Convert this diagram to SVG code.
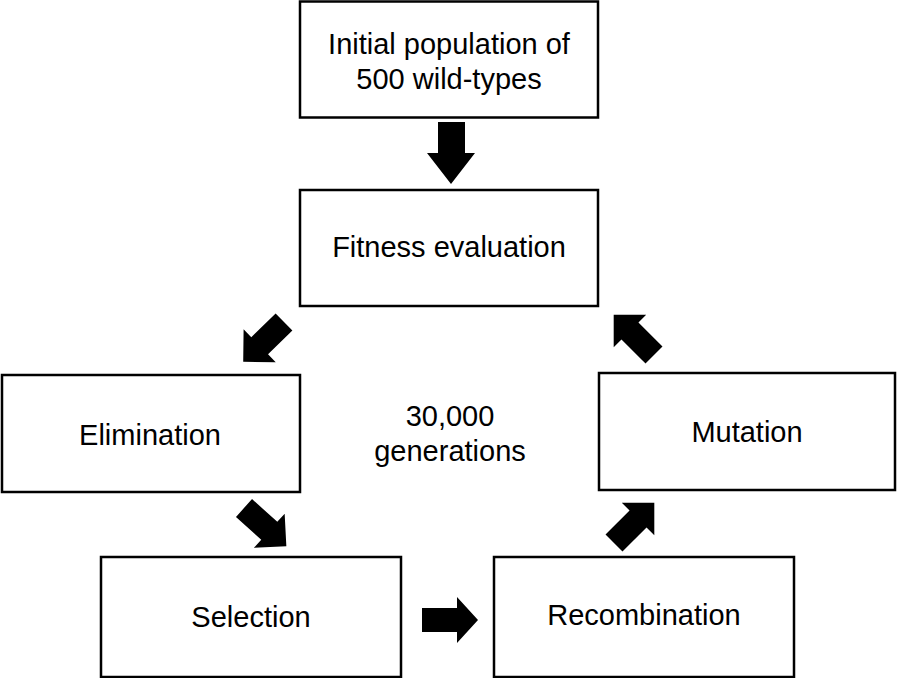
<svg xmlns="http://www.w3.org/2000/svg" xmlns:xlink="http://www.w3.org/1999/xlink" width="898" height="678" viewBox="0 0 898 678">
<style>
.box{fill:#fff;stroke:#000;stroke-width:2.5}
.t{font-family:"Liberation Sans",Arial,sans-serif;font-size:29px;fill:#000;text-anchor:middle}
.arr{fill:#000}
</style>
<defs>
<path id="darr" d="M0,-12 L34,-12 L34,-23 L57,0 L34,23 L34,12 L0,12 Z"/>
</defs>
<rect width="898" height="678" fill="#fff"/>
<g id="initial"><rect class="box" x="300" y="1.5" width="298" height="116"/><text class="t" x="449" y="54">Initial population of</text><text class="t" x="449" y="89">500 wild-types</text></g>
<g id="fitness"><rect class="box" x="300" y="190" width="298" height="116"/><text class="t" x="449" y="257">Fitness evaluation</text></g>
<g id="elimination"><rect class="box" x="2" y="375" width="298" height="117"/><text class="t" x="150" y="445">Elimination</text></g>
<g id="mutation"><rect class="box" x="599" y="373" width="296" height="117"/><text class="t" x="747" y="442">Mutation</text></g>
<g id="selection"><rect class="box" x="101" y="557" width="300" height="120"/><text class="t" x="251" y="627">Selection</text></g>
<g id="recombination"><rect class="box" x="494" y="557" width="300" height="120"/><text class="t" x="644" y="625">Recombination</text></g>
<g id="label"><text class="t" x="450" y="426">30,000</text><text class="t" x="450" y="461">generations</text></g>
<g id="connectors" class="arr">
<polygon points="438,122 465,122 465,153 475,153 451,184 427,153 438,153"/>
<use xlink:href="#darr" transform="translate(284,322) rotate(135.7)"/>
<use xlink:href="#darr" transform="translate(244,508) rotate(42)"/>
<polygon points="422,608 457,608 457,597 478,620 457,643 457,632 422,632"/>
<use xlink:href="#darr" transform="translate(614,543) rotate(-45)"/>
<use xlink:href="#darr" transform="translate(654,355) rotate(-135)"/>
</g>
</svg>
